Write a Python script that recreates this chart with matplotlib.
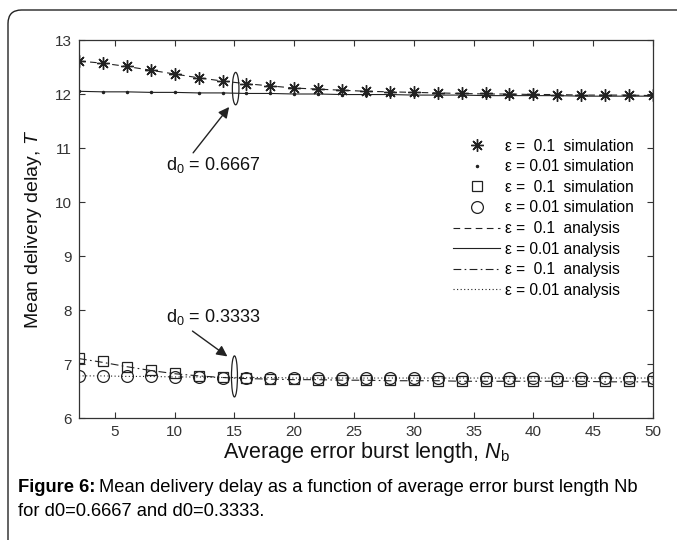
import matplotlib
matplotlib.use("Agg")
import matplotlib.pyplot as plt
from matplotlib.patches import Ellipse, FancyBboxPatch

plt.rcParams['font.family'] = ['Liberation Sans', 'DejaVu Sans']
plt.rcParams['mathtext.fontset'] = 'custom'
plt.rcParams['mathtext.rm'] = 'Liberation Sans'
plt.rcParams['mathtext.it'] = 'Liberation Sans:italic'

# ---- data ----
Nb = [2, 4, 6, 8, 10, 12, 14, 16, 18, 20, 22, 24, 26, 28, 30, 32, 34, 36, 38, 40, 42, 44, 46, 48, 50]

# d0 = 0.6667
sim_e01_hi = [12.62, 12.58, 12.52, 12.45, 12.37, 12.30, 12.25, 12.19, 12.15, 12.12, 12.09, 12.07, 12.06,
              12.04, 12.03, 12.02, 12.01, 12.01, 12.00, 12.00, 11.99, 11.99, 11.98, 11.98, 11.98]
sim_e001_hi = [12.05, 12.04, 12.04, 12.03, 12.03, 12.02, 12.02, 12.01, 12.01, 12.00, 12.00, 11.99, 11.99,
               11.99, 11.98, 11.98, 11.98, 11.97, 11.97, 11.97, 11.97, 11.96, 11.96, 11.96, 11.96]
ana_e01_hi = [12.61, 12.57, 12.51, 12.44, 12.37, 12.30, 12.24, 12.19, 12.15, 12.11, 12.09, 12.07, 12.05,
              12.04, 12.03, 12.02, 12.01, 12.00, 12.00, 11.99, 11.99, 11.98, 11.98, 11.98, 11.97]
ana_e001_hi = [12.05, 12.04, 12.04, 12.03, 12.03, 12.02, 12.02, 12.01, 12.01, 12.00, 12.00, 11.99, 11.99,
               11.99, 11.98, 11.98, 11.98, 11.97, 11.97, 11.97, 11.97, 11.96, 11.96, 11.96, 11.96]

# d0 = 0.3333
sim_e01_lo = [7.12, 7.05, 6.95, 6.88, 6.83, 6.77, 6.76, 6.74, 6.73, 6.72, 6.71, 6.71, 6.70,
              6.70, 6.70, 6.69, 6.69, 6.69, 6.69, 6.68, 6.68, 6.68, 6.68, 6.68, 6.68]
sim_e001_lo = [6.78, 6.78, 6.77, 6.77, 6.76, 6.76, 6.75, 6.75, 6.75, 6.74, 6.74, 6.74, 6.74,
               6.74, 6.74, 6.74, 6.74, 6.74, 6.74, 6.74, 6.74, 6.74, 6.74, 6.74, 6.74]
ana_e01_lo = [7.10, 7.03, 6.95, 6.88, 6.82, 6.78, 6.75, 6.73, 6.72, 6.71, 6.71, 6.70, 6.70,
              6.69, 6.69, 6.69, 6.68, 6.68, 6.68, 6.68, 6.68, 6.68, 6.67, 6.67, 6.67]
ana_e001_lo = [6.78, 6.78, 6.77, 6.77, 6.76, 6.76, 6.75, 6.75, 6.75, 6.74, 6.74, 6.74, 6.74,
               6.74, 6.74, 6.74, 6.74, 6.74, 6.74, 6.74, 6.74, 6.74, 6.74, 6.74, 6.74]

labels = ["ε =  0.1  simulation", "ε = 0.01 simulation", "ε =  0.1  simulation", "ε = 0.01 simulation",
          "ε =  0.1  analysis", "ε = 0.01 analysis", "ε =  0.1  analysis", "ε = 0.01 analysis"]
xticks = [5, 10, 15, 20, 25, 30, 35, 40, 45, 50]
yticks = [6, 7, 8, 9, 10, 11, 12, 13]

# ---- figure ----
fig = plt.figure(figsize=(6.77, 5.4), dpi=100)
W, H = 677, 540

# outer frame (left + top, rounded corner)
frame = FancyBboxPatch((8 / W, -0.1), 1.2, (530 / H) + 0.1, boxstyle="round,pad=0,rounding_size=0.02",
                       transform=fig.transFigure, fill=False, edgecolor='#222222', linewidth=1.0,
                       mutation_aspect=W / H)
fig.patches.append(frame)

ax = fig.add_axes([79 / W, (540 - 418) / H, (653 - 79) / W, (418 - 40) / H])
lc = '#222222'
lw = 0.8

h1, = ax.plot(Nb, sim_e01_hi, linestyle='none', marker=(8, 2, 0), markersize=9, color=lc, markeredgewidth=1.0)
h2, = ax.plot(Nb, sim_e001_hi, linestyle='none', marker='.', markersize=3, color=lc)
h3, = ax.plot(Nb, sim_e01_lo, linestyle='none', marker='s', markersize=7, markerfacecolor='none',
              markeredgecolor=lc, markeredgewidth=0.9)
h4, = ax.plot(Nb, sim_e001_lo, linestyle='none', marker='o', markersize=8.5, markerfacecolor='none',
              markeredgecolor=lc, markeredgewidth=0.9)
h5, = ax.plot(Nb, ana_e01_hi, linestyle=(0, (6, 4)), color=lc, linewidth=lw)
h6, = ax.plot(Nb, ana_e001_hi, linestyle='-', color=lc, linewidth=lw)
h7, = ax.plot(Nb, ana_e01_lo, linestyle=(0, (7, 3, 1.5, 3)), color=lc, linewidth=lw)
h8, = ax.plot(Nb, ana_e001_lo, linestyle=(0, (1, 2.2)), color=lc, linewidth=lw)

ax.set_xlim(2, 50)
ax.set_ylim(6, 13)
ax.set_xticks(xticks)
ax.set_yticks(yticks)
ax.tick_params(direction='in', top=True, right=True, length=4, width=0.8, colors='#333333',
               labelsize=11, labelcolor='#333333', pad=5)
for s in ax.spines.values():
    s.set_color('#333333')
    s.set_linewidth(0.9)

ax.set_xlabel("Average error burst length, $N_\\mathrm{b}$", fontsize=15.5, color='#111111', labelpad=1)
ax.set_ylabel("Mean delivery delay, $T$", fontsize=14, color='#111111', labelpad=8)

# annotations
ax.add_patch(Ellipse((15.1, 12.1), 0.55, 0.6, fill=False, edgecolor=lc, linewidth=0.9))
ax.add_patch(Ellipse((15.0, 6.77), 0.5, 0.76, fill=False, edgecolor=lc, linewidth=0.9))
ax.annotate("", xy=(14.7, 11.8), xytext=(11.4, 10.87),
            arrowprops=dict(arrowstyle='-|>', color=lc, lw=1.0, mutation_scale=16))
ax.annotate("", xy=(14.6, 7.11), xytext=(11.3, 7.64),
            arrowprops=dict(arrowstyle='-|>', color=lc, lw=1.0, mutation_scale=16))
ax.text(9.3, 10.68, "d$_0$ = 0.6667", fontsize=13, ha='left', va='center', color='#111111')
ax.text(9.3, 7.87, "d$_0$ = 0.3333", fontsize=13, ha='left', va='center', color='#111111')

ax.legend([h1, h2, h3, h4, h5, h6, h7, h8], labels, loc='upper right', bbox_to_anchor=(0.966, 0.739),
          frameon=False, fontsize=11.2, handlelength=3.0, handletextpad=0.3, labelspacing=0.36,
          borderaxespad=0, borderpad=0)

# caption
r = fig.canvas.get_renderer()
cy1, cy2 = 1 - 487 / H, 1 - 511 / H
t1 = fig.text(18 / W, cy1, "Figure 6:", fontsize=13.2, fontweight='bold', va='center', ha='left')
bb = t1.get_window_extent(renderer=r)
fig.text(bb.x1 / W + 4 / W, cy1, "Mean delivery delay as a function of average error burst length Nb",
         fontsize=13.2, va='center', ha='left')
fig.text(18 / W, cy2, "for d0=0.6667 and d0=0.3333.", fontsize=13.2, va='center', ha='left')

fig.savefig("out.png", dpi=100)
